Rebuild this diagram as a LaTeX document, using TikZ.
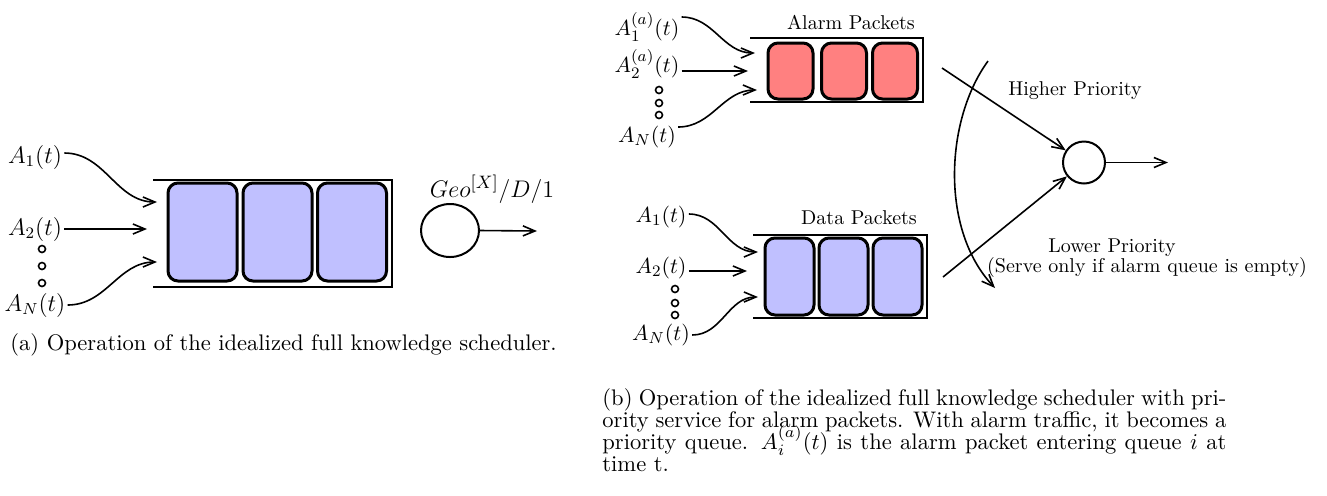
\documentclass[tikz,border=0pt]{standalone}
\usetikzlibrary{arrows.meta,shapes.geometric}
\definecolor{lav}{RGB}{192,192,255}
\definecolor{salmon}{RGB}{255,128,128}
\begin{document}
\begin{tikzpicture}[x=0.5pt,y=-0.5pt,
  conn/.style={line width=0.8pt,-{Straight Barb[length=6pt,width=5pt]}},
  qline/.style={line width=1pt},
  cellstyle/.style={draw,line width=1.5pt,rounded corners=5pt,inner sep=0pt},
  bluecell/.style={cellstyle,fill=lav,minimum width=34.5pt,minimum height=49pt},
  redcell/.style={cellstyle,fill=salmon,minimum width=22.5pt,minimum height=28pt},
  datacell/.style={cellstyle,fill=lav,minimum width=24.5pt,minimum height=38.5pt},
  dotnode/.style={circle,draw,line width=0.8pt,inner sep=0pt,minimum size=3.5pt},
  lblL/.style={inner sep=1pt,font=\large},
  lblR/.style={inner sep=1pt,font=\fontsize{11}{13}\selectfont},
  txt/.style={inner sep=0pt},
  captxt/.style={inner sep=0pt,anchor=base west,font=\normalsize,scale=1.127}]
\useasboundingbox (0,0) rectangle (1327,495);

% ---------------- (a) ----------------
\node[lblL] (la1) at (35,157) {$A_1(t)$};
\node[lblL] (la2) at (35,229) {$A_2(t)$};
\node[lblL] (laN) at (35,305) {$A_N(t)$};
\node[dotnode] (ld1) at (42,249) {};
\node[dotnode] (ld2) at (42,266) {};
\node[dotnode] (ld3) at (42,283) {};
\coordinate (le1) at (157,202);
\coordinate (le2) at (147,229);
\coordinate (leN) at (157,262);
\draw[conn] ([yshift=2pt]la1.east) to[out=0,in=180] (le1);
\draw[conn] (la2.east) -- (le2);
\draw[conn] (laN.east) to[out=0,in=180] (leN);
\draw[qline] (153,180) -- (392,180) -- (392,287) -- (153,287);
\node[bluecell] (lc1) at (202.5,232) {};
\node[bluecell] (lc2) at (277.5,232) {};
\node[bluecell] (lc3) at (352,232) {};
\node[ellipse,draw,line width=1pt,minimum width=29pt,minimum height=26.5pt,inner sep=0pt] (ls) at (450,230.5) {};
\coordinate (lout) at (537,231);
\draw[conn] (ls.east) -- (lout);
\node[txt,font=\fontsize{13}{15}\selectfont] (geo) at (492,189) {$Geo^{[X]}/D/1$};
\node[captxt] (capa) at (10,350) {(a) Operation of the idealized full knowledge scheduler.};

% ---------------- (b) alarm ----------------
\node[lblR] (ra1) at (647,27) {$A_1^{(a)}(t)$};
\node[lblR] (ra2) at (647,64) {$A_2^{(a)}(t)$};
\node[lblR] (raN) at (647,137) {$A_N(t)$};
\node[dotnode] (rad1) at (659,90) {};
\node[dotnode] (rad2) at (659,103) {};
\node[dotnode] (rad3) at (659,115) {};
\coordinate (rae1) at (755,53);
\coordinate (rae2) at (748,71);
\coordinate (raeN) at (757,90);
\draw[conn] ([yshift=5pt]ra1.east) to[out=0,in=180] (rae1);
\draw[conn] ([yshift=-3.5pt]ra2.east) -- (rae2);
\draw[conn] ([yshift=5pt]raN.east) to[out=0,in=180] (raeN);
\draw[qline] (750,38) -- (923,38) -- (923,102) -- (750,102);
\node[redcell] (rac1) at (790.5,71) {};
\node[redcell] (rac2) at (844,71) {};
\node[redcell] (rac3) at (895,71) {};
\node[txt] (alarmtxt) at (851,22) {Alarm Packets};

% ---------------- (b) data ----------------
\node[lblR] (rd1) at (661,217) {$A_1(t)$};
\node[lblR] (rd2) at (661,268) {$A_2(t)$};
\node[lblR] (rdN) at (661,335) {$A_N(t)$};
\node[dotnode] (rdd1) at (675,289) {};
\node[dotnode] (rdd2) at (675,303) {};
\node[dotnode] (rdd3) at (675,315) {};
\coordinate (rde1) at (758,252);
\coordinate (rde2) at (747,271);
\coordinate (rdeN) at (758,297);
\draw[conn] ([yshift=1.5pt]rd1.east) to[out=0,in=180] (rde1);
\draw[conn] ([yshift=-1.5pt]rd2.east) -- (rde2);
\draw[conn] (rdN.east) to[out=0,in=180] (rdeN);
\draw[qline] (753,235) -- (927,235) -- (927,318) -- (753,318);
\node[datacell] (rdc1) at (789.5,276.5) {};
\node[datacell] (rdc2) at (843.5,276.5) {};
\node[datacell] (rdc3) at (897.5,276.5) {};
\node[txt] (datatxt) at (859,218) {Data Packets};

% ---------------- (b) server ----------------
\node[circle,draw,line width=1pt,minimum size=21pt,inner sep=0pt] (rs) at (1084,162.5) {};
\coordinate (hstart) at (942,68);
\coordinate (lstart) at (943,277);
\coordinate (rout) at (1168,162.5);
\draw[conn] (hstart) -- (rs);
\draw[conn] (lstart) -- (rs);
\draw[conn] (rs.east) -- (rout);
\coordinate (arcA) at (988,61);
\coordinate (arcB) at (995,288);
\draw[conn] (arcA) .. controls (945,120) and (940,230) .. (arcB);
\node[txt] (hp) at (1075,91) {Higher Priority};
\node[txt] (lp) at (1112,248) {Lower Priority};
\node[txt] (se) at (1147,267) {(Serve only if alarm queue is empty)};

% ---------------- caption (b) ----------------
\node[captxt] (capb1) at (602,405) {\makebox[276.8pt][s]{(b) Operation of the idealized full knowledge scheduler with pri-}};
\node[captxt] (capb2) at (602,427) {\makebox[276.8pt][s]{ority service for alarm packets. With alarm traffic, it becomes a}};
\node[captxt] (capb3) at (602,449) {\makebox[276.8pt][s]{priority queue. $A_i^{(a)}(t)$ is the alarm packet entering queue $i$ at}};
\node[captxt] (capb4) at (602,471) {time t.};
\end{tikzpicture}
\end{document}
